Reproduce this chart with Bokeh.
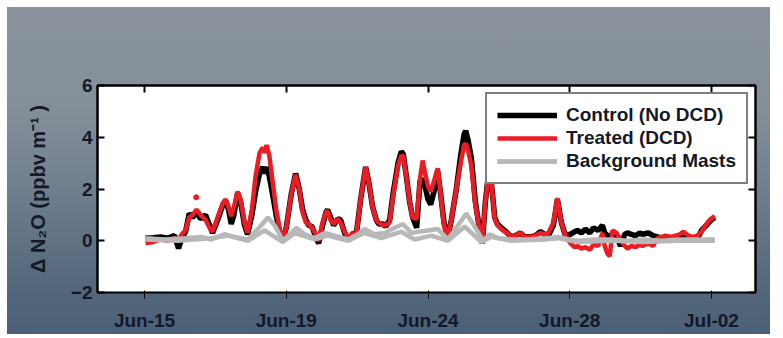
from bokeh.plotting import figure
from bokeh.models import Range1d, LinearAxis, FixedTicker, Legend, LegendItem
from bokeh.embed import file_html
from bokeh.resources import INLINE

# ---- data (x in days of June; Jul-02 = 32) ----
tick_pos = [15, 19.25, 23.5, 27.75, 32]
tick_labels = ["Jun-15", "Jun-19", "Jun-24", "Jun-28", "Jul-02"]
y_ticks = [-2, 0, 2, 4, 6]

time_days = [15.03, 15.25, 15.48, 15.70, 15.90, 16.02, 16.12, 16.23, 16.34, 16.44,
             16.56, 16.68, 16.83, 16.95, 17.04, 17.22, 17.35, 17.43, 17.52, 17.60,
             17.68, 17.79, 17.88, 18.00, 18.09, 18.22, 18.33, 18.45, 18.54, 18.60,
             18.66, 18.74, 18.84, 18.96, 19.06, 19.14, 19.25, 19.40, 19.53, 19.64,
             19.74, 19.84, 19.92, 20.02, 20.12, 20.22, 20.34, 20.44, 20.49, 20.58,
             20.67, 20.80, 20.88, 21.00, 21.12, 21.25, 21.35, 21.48, 21.63, 21.72,
             21.84, 21.95, 22.02, 22.15, 22.23, 22.35, 22.45, 22.60, 22.70, 22.76,
             22.86, 22.95, 23.04, 23.16, 23.26, 23.34, 23.43, 23.50, 23.58, 23.68,
             23.79, 23.88, 23.98, 24.09, 24.20, 24.35, 24.48, 24.58, 24.63, 24.70,
             24.80, 24.92, 25.05, 25.13, 25.22, 25.34, 25.42, 25.50, 25.58, 25.70,
             25.80, 25.88, 26.00, 26.12, 26.27, 26.40, 26.57, 26.72, 26.87, 27.00,
             27.11, 27.26, 27.38, 27.50, 27.62, 27.77, 27.90, 27.98, 28.10, 28.22,
             28.35, 28.46, 28.60, 28.73, 28.80, 28.88, 28.95, 29.03, 29.15, 29.27,
             29.40, 29.48, 29.60, 29.72, 29.85, 29.93, 30.11, 30.25, 30.38, 30.50,
             30.62, 30.80, 30.92, 31.05, 31.16, 31.30, 31.45, 31.58, 31.70, 31.85,
             31.95, 32.04, 32.10]

control = [0.10, 0.12, 0.15, 0.10, 0.20, -0.30, 0.10, 0.35, 1.05, 0.90,
           1.10, 0.85, 1.00, 0.60, 0.30, 0.90, 1.40, 1.55, 1.20, 0.65,
           1.00, 1.85, 1.50, 0.60, 0.25, 1.00, 1.90, 2.60, 2.85, 2.60,
           2.85, 2.50, 1.80, 0.90, 0.30, 0.05, 0.50, 1.80, 2.60, 2.00,
           1.20, 0.80, 0.60, 0.55, 0.20, -0.10, 0.60, 1.10, 1.20, 0.90,
           0.60, 0.85, 0.80, 0.30, 0.00, 0.30, 0.25, 1.60, 2.85, 2.30,
           1.30, 0.80, 0.65, 0.65, 0.55, 0.80, 1.80, 3.00, 3.45, 3.35,
           2.40, 1.50, 0.90, 0.50, 2.30, 2.40, 2.00, 1.60, 1.40, 1.90,
           2.70, 1.80, 0.70, 0.10, 0.80, 2.00, 3.30, 4.10, 4.25, 3.90,
           3.20, 1.50, 0.40, -0.10, 1.50, 2.90, 2.00, 0.90, 0.65, 0.50,
           0.40, 0.30, 0.15, 0.20, 0.30, 0.15, 0.15, 0.20, 0.35, 0.25,
           0.20, 0.60, 1.60, 0.70, 0.20, 0.25, 0.35, 0.40, 0.30, 0.45,
           0.30, 0.50, 0.40, 0.60, 0.30, 0.20, 0.00, 0.30, 0.20, -0.20,
           0.25, 0.30, 0.25, 0.20, 0.30, 0.25, 0.30, 0.20, 0.15, 0.10,
           0.10, 0.10, 0.05, 0.10, 0.15, 0.10, 0.05, 0.10, 0.40, 0.60,
           0.75, 0.85, 0.90]

treated = [-0.10, -0.05, 0.05, 0.00, 0.10, 0.05, 0.25, 0.40, 0.90, 1.00,
           1.20, 1.00, 0.80, 0.50, 0.35, 1.00, 1.45, 1.60, 1.30, 0.95,
           1.30, 1.90, 1.60, 0.70, 0.30, 1.20, 2.50, 3.40, 3.60, 3.40,
           3.70, 3.30, 2.30, 1.10, 0.40, 0.05, 0.50, 1.80, 2.55, 2.00,
           1.10, 0.70, 0.65, 0.50, 0.30, 0.00, 0.70, 1.10, 1.15, 0.80,
           0.65, 0.85, 0.70, 0.35, 0.10, 0.30, 0.20, 1.60, 2.85, 2.30,
           1.30, 0.80, 0.70, 0.60, 0.60, 0.70, 1.70, 2.90, 3.30, 3.25,
           2.40, 1.50, 0.90, 0.85, 2.40, 3.10, 2.50, 2.10, 1.90, 2.30,
           2.80, 1.80, 0.60, 0.10, 0.80, 2.00, 3.00, 3.70, 3.75, 3.50,
           2.90, 1.40, 0.40, -0.05, 1.50, 2.85, 2.00, 0.85, 0.60, 0.45,
           0.35, 0.30, 0.15, 0.20, 0.30, 0.15, 0.15, 0.20, 0.30, 0.25,
           0.30, 0.70, 1.65, 0.70, 0.20, -0.10, -0.25, -0.20, -0.30, -0.25,
           -0.35, -0.15, -0.20, 0.30, -0.20, -0.50, -0.60, 0.40, 0.30, 0.05,
           -0.20, -0.30, -0.20, -0.25, -0.15, -0.20, -0.10, -0.20, 0.10, 0.15,
           0.20, 0.15, 0.20, 0.25, 0.35, 0.20, 0.15, 0.20, 0.35, 0.65,
           0.80, 0.90, 0.95]

treated_dot_t = [16.55]
treated_dot_v = [1.68]

bg_a_t = [15.03, 15.6, 16.2, 16.7, 17.0, 17.4, 17.7, 18.1, 18.5, 18.7, 18.9, 19.15,
          19.4, 19.55, 19.8, 20.1, 20.4, 20.7, 21.1, 21.4, 21.6, 21.9, 22.2, 22.5,
          22.75, 23.0, 23.2, 23.5, 23.8, 24.1, 24.4, 24.65, 24.9, 25.15, 25.35, 25.6,
          26.0, 26.5, 27.0, 27.4, 27.7, 28.0, 28.5, 29.0, 29.5, 30.0, 30.5, 31.0,
          31.5, 32.1]
bg_a = [0.10, 0.05, 0.10, 0.15, 0.05, 0.25, 0.15, 0.05, 0.60, 0.90, 0.60, 0.00,
        0.30, 0.50, 0.25, 0.10, 0.30, 0.20, 0.05, 0.25, 0.45, 0.25, 0.30, 0.50,
        0.65, 0.30, 0.35, 0.40, 0.45, 0.05, 0.60, 1.05, 0.55, 0.00, 0.25, 0.10,
        0.05, 0.05, 0.10, 0.15, 0.05, 0.00, 0.05, 0.05, 0.00, 0.05, 0.00, 0.05,
        0.05, 0.05]

bg_b_t = [15.03, 16.0, 17.0, 17.5, 18.1, 18.6, 19.15, 19.5, 20.1, 20.5, 21.1, 21.6,
          22.1, 22.7, 23.1, 23.6, 24.1, 24.6, 25.1, 25.4, 26.0, 27.0, 27.4, 28.0,
          29.0, 30.0, 31.0, 32.1]
bg_b = [0.05, 0.00, 0.10, 0.20, 0.00, 0.40, -0.05, 0.30, 0.05, 0.20, 0.00, 0.30,
        0.10, 0.35, 0.05, 0.20, 0.00, 0.55, -0.05, 0.15, 0.00, 0.05, 0.10, -0.05,
        0.00, -0.05, 0.00, 0.00]

# ---- figure ----
FONT = "Liberation Sans"
TXT = "#141827"
p = figure(width=770, height=334, output_backend="svg", toolbar_location=None,
           title_location=None,
           x_range=Range1d(13.59, 33.32), y_range=Range1d(-2, 6),
           min_border_left=97, min_border_right=15, min_border_top=85,
           min_border_bottom=42)
p.border_fill_color = None
p.background_fill_color = "white"
p.styles = {"background": "linear-gradient(to right, #ffffff 0px, #ffffff 7px, rgba(255,255,255,0) 7px), "
                          "linear-gradient(to bottom, #ffffff 0px, #ffffff 7px, rgba(255,255,255,0) 7px), "
                          "linear-gradient(180deg, #8a939c 0%, #858f99 32%, "
                          "#6d7c8c 60%, #576a7e 82%, #4b6077 100%)"}
p.outline_line_color = "black"
p.outline_line_width = 2
p.grid.visible = False

for ax in [p.xaxis[0], p.yaxis[0]]:
    ax.major_label_text_font = FONT
    ax.major_label_text_font_style = "bold"
    ax.major_label_text_font_size = "19px"
    ax.major_label_text_color = TXT

p.xaxis.ticker = FixedTicker(ticks=tick_pos)
p.xaxis.major_label_overrides = {t: l for t, l in zip(tick_pos, tick_labels)}
p.yaxis.ticker = FixedTicker(ticks=y_ticks)
p.xaxis.major_label_standoff = 11
p.yaxis.major_label_standoff = 5

yax = p.yaxis[0]
yax.axis_label = "Δ N₂O (ppbv m⁻¹ )"
yax.axis_label_text_font = FONT
yax.axis_label_text_font_style = "bold"
yax.axis_label_text_font_size = "20px"
yax.axis_label_text_color = TXT
yax.axis_label_standoff = 19

top_ax = LinearAxis(ticker=FixedTicker(ticks=tick_pos))
right_ax = LinearAxis(ticker=FixedTicker(ticks=y_ticks))
for ax in [top_ax, right_ax]:
    ax.major_label_text_color = None
    ax.major_label_text_font_size = "1px"
    ax.major_label_standoff = 0
p.add_layout(top_ax, "above")
p.add_layout(right_ax, "right")

for ax in [p.xaxis[0], p.yaxis[0], top_ax, right_ax]:
    ax.axis_line_color = "black"
    ax.axis_line_width = 2
    ax.major_tick_line_color = "black"
    ax.major_tick_line_width = 2
    ax.major_tick_in = 7
    ax.major_tick_out = 0
    ax.minor_tick_line_color = None

r_c = p.line(time_days, control, line_color="black", line_width=5.5)
r_t = p.line(time_days, treated, line_color="#ec1c24", line_width=4.5)
p.scatter(treated_dot_t, treated_dot_v, size=5, color="#ec1c24")
r_ga = p.line(bg_a_t, bg_a, line_color="#b8b8b8", line_width=4.5)
r_gb = p.line(bg_b_t, bg_b, line_color="#b8b8b8", line_width=4.5)

legend = Legend(items=[
    LegendItem(label="Control (No DCD)", renderers=[r_c]),
    LegendItem(label="Treated (DCD)", renderers=[r_t]),
    LegendItem(label="Background Masts", renderers=[r_ga, r_gb]),
], location="top_right")
legend.margin = 7
legend.padding = 10
legend.spacing = 1
legend.glyph_width = 60
legend.glyph_height = 20
legend.label_height = 20
legend.label_width = 20
legend.label_standoff = 9
legend.label_text_font = FONT
legend.label_text_font_style = "bold"
legend.label_text_font_size = "19px"
legend.label_text_color = TXT
legend.border_line_color = "black"
legend.border_line_width = 2.5
legend.background_fill_color = "white"
legend.background_fill_alpha = 1
p.add_layout(legend)

open("out.html", "w").write(file_html(p, INLINE))
